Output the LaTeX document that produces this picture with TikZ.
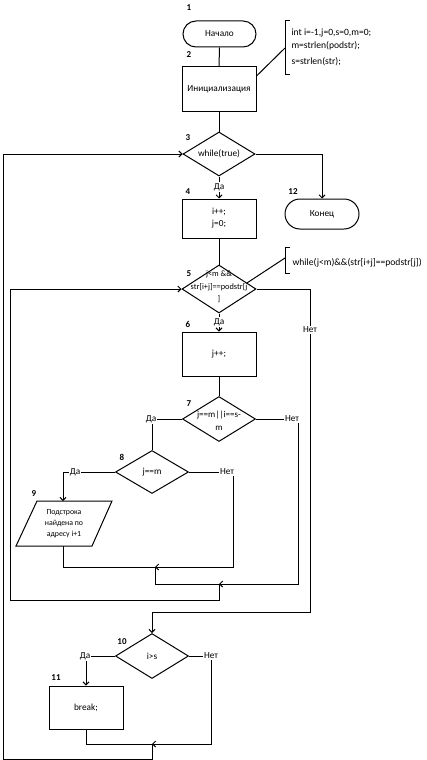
\documentclass[tikz,border=0pt]{standalone}
\usepackage{fontspec}
\setmainfont{Carlito}
\usetikzlibrary{shapes.geometric,arrows.meta,calc}
\begin{document}
\begin{tikzpicture}[x=1pt,y=-1pt,
  font=\fontsize{9.3}{12}\selectfont,
  line width=1pt,
  box/.style={draw,rectangle,inner sep=1pt,align=center},
  term/.style={draw,rectangle,rounded corners=13pt,inner sep=1pt},
  dia/.style={draw,diamond,inner sep=0pt},
  dtext/.style={align=center,inner sep=0pt},
  num/.style={font=\fontsize{9}{10}\selectfont\bfseries,inner sep=0pt},
  yn/.style={fill=white,inner sep=1pt},
  note/.style={anchor=west,inner sep=0pt,font=\fontsize{9.6}{12}\selectfont},
  arr/.style={-{Straight Barb[length=3pt,width=6pt]}}
]
\useasboundingbox (0,0) rectangle (426,760);

% nodes
\node[term,minimum width=73pt,minimum height=26pt] (t1) at (219.5,34) {Начало};
\node[box,minimum width=74pt,minimum height=44pt] (b2) at (219,89) {Инициализация};
\node[dia,minimum width=72pt,minimum height=44pt] (d3) at (219,154) {};
\node[dtext] (d3t) at (d3) {while(true)};
\node[box,minimum width=74pt,minimum height=39pt] (b4) at (219,218.5) {i++;\\j=0;};
\node[term,minimum width=74pt,minimum height=30pt,rounded corners=15pt] (t12) at (322,214) {Конец};
\node[dia,minimum width=74pt,minimum height=48pt] (d5) at (219,289) {};
\node[dtext,font=\fontsize{8.3}{12.5}\selectfont] (d5t) at (219,287) {j<m \&\&\\str[i+j]==podstr[j\\]};
\node[box,minimum width=74pt,minimum height=44pt] (b6) at (219,354) {j++;};
\node[dia,minimum width=73pt,minimum height=45pt] (d7) at (219,419) {};
\node[dtext,font=\fontsize{9}{13}\selectfont] (d7t) at (219,421) {j==m||i==s-\\m};
\node[dia,minimum width=73pt,minimum height=43pt] (d8) at (152,472) {};
\node[dtext] (d8t) at (d8) {j==m};
\node[dtext,font=\fontsize{7.8}{11}\selectfont] (p9) at (64,524) {Подстрока\\найдена по\\адресу i+1};
\coordinate (p9a) at (16,546);
\coordinate (p9b) at (92,546);
\coordinate (p9c) at (112,501);
\coordinate (p9d) at (37,501);
\draw (p9a) -- (p9b) -- (p9c) -- (p9d) -- cycle;
\node[dia,minimum width=73pt,minimum height=45pt] (d10) at (152,656) {};
\node[dtext] (d10t) at (d10) {i>s};
\node[box,minimum width=74pt,minimum height=43pt] (b11) at (86,707.5) {break;};

% numbers
\node[num] at (189,8) {1};
\node[num] at (189,55) {2};
\node[num] at (188,138) {3};
\node[num] at (188,192) {4};
\node[num] at (293,192) {12};
\node[num] at (189,274) {5};
\node[num] at (188,324) {6};
\node[num] at (189,404) {7};
\node[num] at (122,457) {8};
\node[num] at (34,494) {9};
\node[num] at (122,642) {10};
\node[num] at (56,678) {11};

% annotations
\draw (290,21) -- (285,21) -- (285,74) -- (290,74);
\coordinate (n1) at (285,48);
\draw ([yshift=13pt]b2.east) -- (n1);
\node[note] at (291,33) {int i=-1,j=0,s=0,m=0;};
\node[note] at (291,46) {m=strlen(podstr);};
\node[note] at (291,62) {s=strlen(str);};

\draw (290,247) -- (285,247) -- (285,273) -- (290,273);
\coordinate (n2) at (285,258);
\draw ($(d5.east)!0.25!(d5.north)$) -- (n2);
\node[note] at (292,263) {while(j<m)\&\&(str[i+j]==podstr[j])};

% straight connectors
\draw (t1.south) -- (b2.north);
\draw (b2.south) -- (d3.north);
\draw[arr] (d3.south) -- (b4.north);
\node[yn] at (219,187) {Да};
\draw (b4.south) -- (d5.north);
\draw[arr] (d5.south) -- (b6.north);
\node[yn] at (219,322) {Да};
\draw (b6.south) -- (d7.north);

% corner coordinates
\coordinate (c3r) at (322,154);
\coordinate (c5r) at (310,289);
\coordinate (c5b) at (310,612);
\coordinate (c10t) at (152,612);
\coordinate (c7l) at (152,419);
\coordinate (c7r) at (298,419);
\coordinate (c7b) at (298,584);
\coordinate (j2) at (219,584);
\coordinate (c8l) at (63,472);
\coordinate (c8r) at (233,472);
\coordinate (c8b) at (233,567);
\coordinate (j1) at (155,567);
\coordinate (p9top) at (63,501);
\coordinate (p9bot) at (63,546);
\coordinate (c9b) at (63,567);
\coordinate (j1b) at (155,584);
\coordinate (j2b) at (219,600);
\coordinate (l5b) at (10,600);
\coordinate (l5t) at (10,289);
\coordinate (c10l) at (86,656);
\coordinate (c10r) at (211,656);
\coordinate (c10b) at (211,744);
\coordinate (j3) at (152,744);
\coordinate (c11b) at (86,744);
\coordinate (j3b) at (152,759);
\coordinate (l3b) at (3,759);
\coordinate (l3t) at (3,154);

% branches
\draw[arr] (d3.east) -- (c3r) -- (t12.north);
\draw[arr] (d5.east) -- (c5r) -- (c5b) -- (c10t) -- (d10.north);
\node[yn] at (310,330) {Нет};
\draw (d7.west) -- (c7l) -- (d8.north);
\node[yn] at (151,419) {Да};
\draw[arr] (d7.east) -- (c7r) -- (c7b) -- (j2);
\node[yn] at (292,419) {Нет};
\draw[arr] (d8.west) -- (c8l) -- (p9top);
\node[yn] at (75,472) {Да};
\draw[arr] (d8.east) -- (c8r) -- (c8b) -- (j1);
\node[yn] at (227,472) {Нет};
\draw[arr] (p9bot) -- (c9b) -- (j1) -- (j1b) -- (j2) -- (j2b) -- (l5b) -- (l5t) -- (d5.west);
\draw[arr] (d10.west) -- (c10l) -- (b11.north);
\node[yn] at (85,656) {Да};
\draw[arr] (d10.east) -- (c10r) -- (c10b) -- (j3);
\node[yn] at (211,656) {Нет};
\draw[arr] (b11.south) -- (c11b) -- (j3) -- (j3b) -- (l3b) -- (l3t) -- (d3.west);
\end{tikzpicture}
\end{document}
